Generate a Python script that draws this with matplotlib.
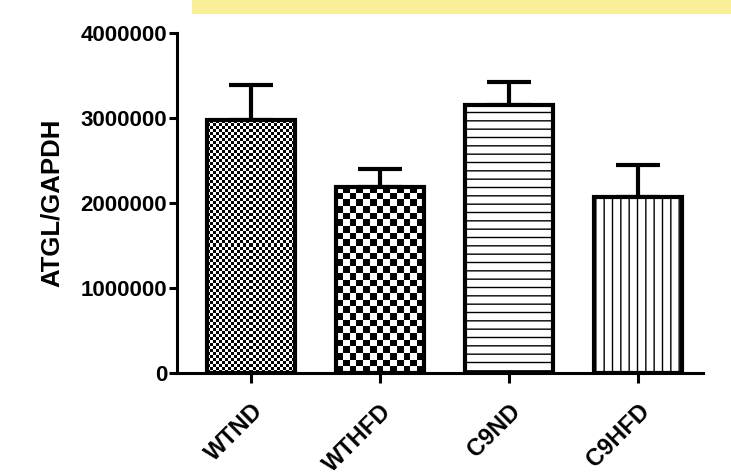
import matplotlib
matplotlib.use("Agg")
import matplotlib.pyplot as plt
from matplotlib.patches import Rectangle
import numpy as np

plt.rcParams['font.family'] = ['Liberation Sans', 'DejaVu Sans']
plt.rcParams['font.weight'] = 'bold'
plt.rcParams['hatch.linewidth'] = 1.0

# data
groups = ["WTND", "WTHFD", "C9ND", "C9HFD"]
means = [2975000, 2195000, 3160000, 2075000]
sem_up = [415000, 205000, 270000, 370000]
fills = ["fine", "checker", "hlines", "vlines"]

fig = plt.figure(figsize=(7.31, 4.76), dpi=100)
ax = fig.add_axes([0.242, 0.216, 0.7196, 0.714])

# yellow highlight strip across the top
fig.patches.append(Rectangle((0.262, 0.970), 0.74, 0.032, transform=fig.transFigure,
                             facecolor="#f8ef98", edgecolor="none", zorder=0))

x = np.arange(len(groups))
width = 0.68
xlim = (-0.574, 3.504)
ylim = (0, 4000000)
ax.set_xlim(*xlim)
ax.set_ylim(*ylim)

bars = ax.bar(x, means, width=width, facecolor="none", edgecolor="black",
              linewidth=3, zorder=3)

# pixel scale for the checker fills
px_x = ax.bbox.width / (xlim[1] - xlim[0])
px_y = ax.bbox.height / (ylim[1] - ylim[0])

for bar, kind in zip(bars, fills):
    x0 = bar.get_x()
    h = bar.get_height()
    if kind in ("fine", "checker"):
        cell = 3.0 if kind == "fine" else 6.6
        nx = int(round(width * px_x / cell))
        ny = int(round(h * px_y / cell))
        board = (np.add.outer(np.arange(ny), np.arange(nx)) % 2).astype(float)
        im = ax.imshow(board, cmap="gray", interpolation="nearest", aspect="auto",
                       extent=(x0, x0 + width, 0, h), origin="lower", zorder=2)
        im.set_clip_path(bar)
    else:
        hatch = "--" if kind == "hlines" else "||"
        ax.bar(bar.get_x() + width / 2, h, width=width, facecolor="white",
               edgecolor="black", hatch=hatch, linewidth=0, zorder=2)

ax.set_xlim(*xlim)
ax.set_ylim(*ylim)

ax.errorbar(x, means, yerr=[np.zeros(len(means)), sem_up], fmt="none",
            ecolor="black", elinewidth=3, capsize=16, capthick=3, zorder=1)

for side in ["top", "right"]:
    ax.spines[side].set_visible(False)
for side in ["left", "bottom"]:
    ax.spines[side].set_linewidth(2.2)

ax.set_yticks([0, 1000000, 2000000, 3000000, 4000000])
ax.set_yticklabels(["0", "1000000", "2000000", "3000000", "4000000"])
ax.set_xticks(x)
ax.set_xticklabels(groups, rotation=45, ha="right", rotation_mode="anchor")
ax.tick_params(axis="both", width=2.2, length=6, labelsize=16, pad=1)
ax.tick_params(axis="x", length=7, labelsize=17, pad=12)
for lab in ax.get_xticklabels() + ax.get_yticklabels():
    lab.set_fontweight("bold")

ax.set_ylabel("ATGL/GAPDH", fontsize=18.5, fontweight="bold", labelpad=12)

fig.savefig("out.png", dpi=100)
